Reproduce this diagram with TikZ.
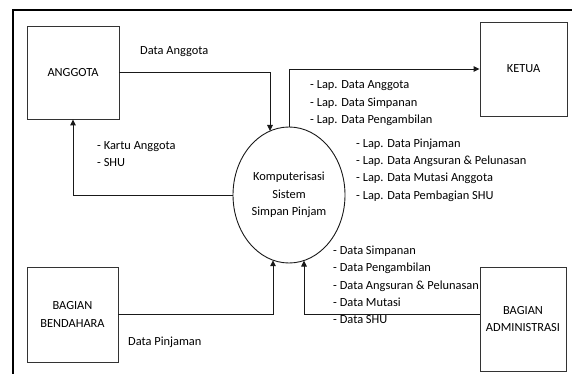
\documentclass[tikz,border=0pt]{standalone}
\usepackage{fontspec}
\setmainfont{Carlito}
\usetikzlibrary{shapes.geometric,arrows.meta,calc}
\begin{document}
\begin{tikzpicture}[x=1pt,y=-1pt,
  every node/.style={font=\fontsize{12.4}{17.3}\selectfont, inner sep=0pt, text=black},
  entity/.style={draw=black!80, line width=0.9pt, align=center},
  flow/.style={draw=black!90, line width=0.9pt, -{Triangle[length=6pt,width=5.5pt]}},
  lbl/.style={anchor=west, align=left},
  frameline/.style={draw=black, line width=1.4pt}]
\useasboundingbox (0,0) rectangle (572,374);
% outer frame
\coordinate (fa) at (13,374);
\coordinate (fb) at (13,10);
\coordinate (fc) at (572,10);
\draw[frameline] (fa) -- (fb) -- (fc);
% process
\node[draw=black!90, line width=0.9pt, ellipse, minimum width=112pt, minimum height=136pt, align=center] (ell) at (289,195)
  {Komputerisasi\\Sistem\\Simpan Pinjam};
% entities
\node[entity, minimum width=92pt, minimum height=93pt] (ang) at (73,72.5) {ANGGOTA};
\node[entity, minimum width=87pt, minimum height=94pt] (ket) at (523.5,69) {KETUA};
\node[entity, minimum width=91pt, minimum height=95pt] (ben) at (72.5,314.5) {BAGIAN\\BENDAHARA};
\node[entity, minimum width=86pt, minimum height=104pt] (adm) at (523,319) {BAGIAN\\ADMINISTRASI};
% border points on the ellipse
\coordinate (p1) at ($(ell.center)+(-19,-64)$);
\coordinate (p4) at ($(ell.center)+(-16,65.2)$);
\coordinate (p5) at ($(ell.center)+(15,65.5)$);
% flows
\draw[flow] (ang.east) -| (p1);
\draw[flow] (ell.north) |- (ket.west);
\draw[flow] (ell.west) -| (ang.south);
\draw[flow] (ben.east) -| (p4);
\draw[flow] (adm.west |- ben.east) -| (p5);
% labels
\node[lbl] (t1) at (140,52) {Data Anggota};
\node[lbl] (t2) at (97,154) {- Kartu Anggota\\- SHU};
\node[lbl] (t3) at (310,103.3) {- Lap. Data Anggota\\- Lap. Data Simpanan\\- Lap. Data Pengambilan};
\node[lbl] (t4) at (356,170) {- Lap. Data Pinjaman\\- Lap. Data Angsuran \& Pelunasan\\- Lap. Data Mutasi Anggota\\- Lap. Data Pembagian SHU};
\node[lbl] (t5) at (333,285) {- Data Simpanan\\- Data Pengambilan\\- Data Angsuran \& Pelunasan\\- Data Mutasi\\- Data SHU};
\node[lbl] (t6) at (128,342) {Data Pinjaman};
\end{tikzpicture}
\end{document}
